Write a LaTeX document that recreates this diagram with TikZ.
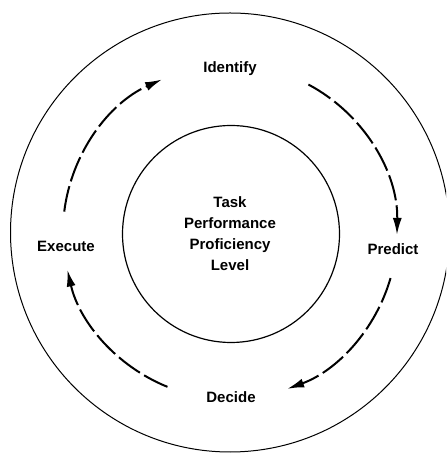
\documentclass[tikz,border=0pt]{standalone}
\usepackage{fontspec}
\setmainfont{Liberation Sans}
\usetikzlibrary{arrows.meta}
\begin{document}
\begin{tikzpicture}[x=1pt,y=1pt,
  ring/.style={draw=black,line width=1pt},
  flow/.style={draw=black,line width=2pt,dash pattern=on 26pt off 5pt,
               -{Latex[length=17pt,width=9pt]}},
  label/.style={font=\fontsize{15}{21}\selectfont\bfseries,inner sep=0pt}]
  \useasboundingbox (0,0) rectangle (446,454);
  \clip (0,0) rectangle (446,454);
  % centres of the three circles
  \coordinate (O) at (230,221.5);
  \coordinate (I) at (231,220);
  \coordinate (C) at (230,222);
  % outer and inner rings
  \draw[ring] (O) circle[radius=219.5];
  \draw[ring,line width=1.2pt] (I) circle[radius=108.5];
  % cycle labels
  \node[label] (identify) at (230,385) {Identify};
  \node[label] (predict)  at (393,205) {Predict};
  \node[label] (decide)   at (231,57)  {Decide};
  \node[label] (execute)  at (66,208)  {Execute};
  \node[label,align=center] (core) at (230,220.5)
    {Task\\Performance\\Proficiency\\Level};
  % dashed cycle arrows, drawn clockwise round C
  \draw[flow] ([shift={(173:167)}]C) arc[start angle=173,end angle=114,radius=167];
  \draw[flow] ([shift={(62:167)}]C)  arc[start angle=62,end angle=-1,radius=167];
  \draw[flow] ([shift={(-16:167)}]C) arc[start angle=-16,end angle=-70,radius=167];
  \draw[flow] ([shift={(-112:167)}]C) arc[start angle=-112,end angle=-167,radius=167];
\end{tikzpicture}
\end{document}
